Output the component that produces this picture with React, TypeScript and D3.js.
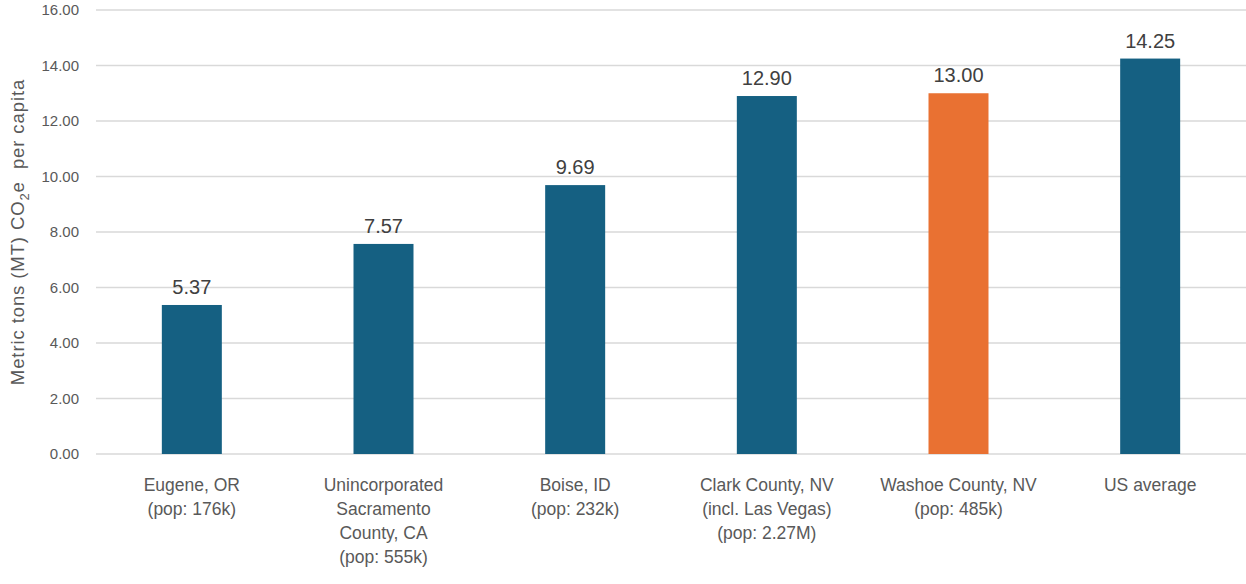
import React from "react";
import * as d3 from "d3";

const categories: string[][] = [
  ["Eugene, OR", "(pop: 176k)"],
  ["Unincorporated", "Sacramento", "County, CA", "(pop: 555k)"],
  ["Boise, ID", "(pop: 232k)"],
  ["Clark County, NV", "(incl. Las Vegas)", "(pop: 2.27M)"],
  ["Washoe County, NV", "(pop: 485k)"],
  ["US average"],
];
const values: number[] = [5.37, 7.57, 9.69, 12.9, 13.0, 14.25];
const highlighted: boolean[] = [false, false, false, false, true, false];
const yTicks: number[] = [0, 2, 4, 6, 8, 10, 12, 14, 16];

const W = 1246;
const H = 584;
const FONT = "'Liberation Sans', Arial, sans-serif";

export default function App() {
  const left = 96;
  const right = 1246;
  const top = 10;
  const bottom = 454;
  const x = d3
    .scaleBand<number>()
    .domain(values.map((_, i) => i))
    .range([left, right])
    .paddingInner(0.687)
    .paddingOuter(0.3435);
  const y = d3.scaleLinear().domain([0, 16]).range([bottom, top]);

  return (
    <svg
      width={W}
      height={H}
      style={{ position: "absolute", left: 0, top: 0, background: "#fff" }}
      fontFamily={FONT}
    >
      {yTicks.map((t) => (
        <g key={t}>
          <line x1={left} x2={right} y1={y(t)} y2={y(t)} stroke="#d9d9d9" strokeWidth={1.3} />
          <text x={79} y={y(t)} dy="0.35em" textAnchor="end" fontSize={15} fill="#595959">
            {t.toFixed(2)}
          </text>
        </g>
      ))}
      <text
        transform={`translate(24, ${(top + bottom) / 2}) rotate(-90)`}
        textAnchor="middle"
        fontSize={18.5}
        letterSpacing={0.9}
        fill="#595959"
      >
        Metric tons (MT) CO
        <tspan fontSize={13} dy={5}>2</tspan>
        <tspan dy={-5}>e&#160; per capita</tspan>
      </text>
      {values.map((v, i) => {
        const bx = x(i)!;
        const bw = x.bandwidth();
        return (
          <g key={i}>
            <rect
              x={bx}
              y={y(v)}
              width={bw}
              height={y(0) - y(v)}
              fill={highlighted[i] ? "#E97132" : "#156082"}
            />
            <text
              x={bx + bw / 2}
              y={y(v) - 11}
              textAnchor="middle"
              fontSize={20}
              fill="#404040"
            >
              {v.toFixed(2)}
            </text>
            {categories[i].map((line, j) => (
              <text
                key={j}
                x={bx + bw / 2}
                y={491 + j * 24}
                textAnchor="middle"
                fontSize={17.5}
                fill="#595959"
              >
                {line}
              </text>
            ))}
          </g>
        );
      })}
    </svg>
  );
}
